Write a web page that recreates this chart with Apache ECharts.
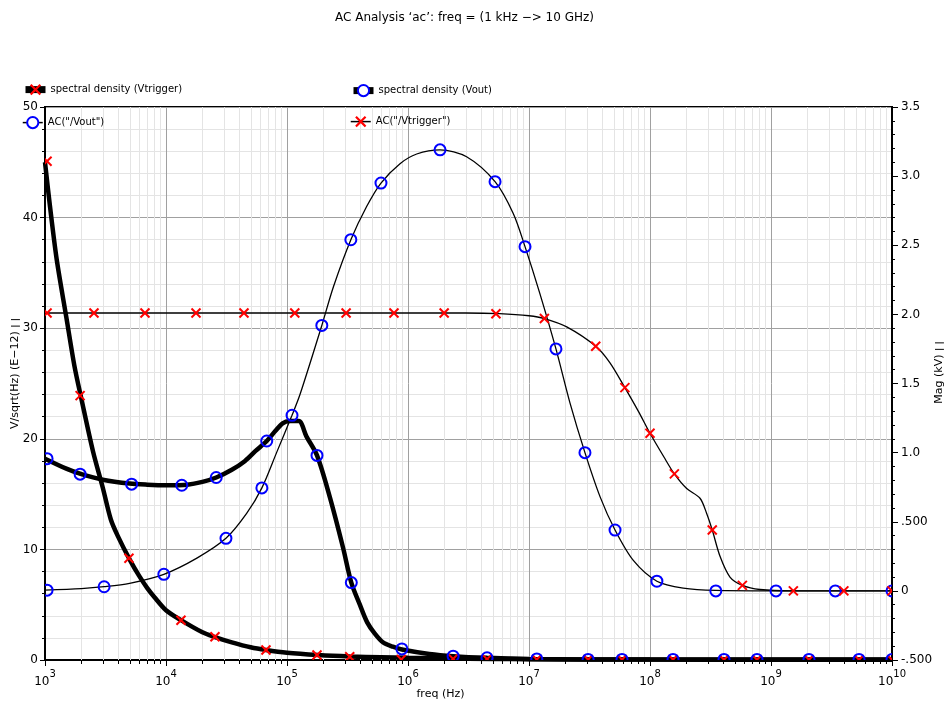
<!DOCTYPE html>
<html>
<head>
<meta charset="utf-8">
<script src="https://cdn.jsdelivr.net/npm/echarts@6/dist/echarts.min.js"></script>
<style>
html,body{margin:0;padding:0;background:#fff;}
#chart{width:947px;height:702px;}
</style>
</head>
<body>
<div id="chart"></div>
<script>
// ---- Spectral density of Vtrigger (left axis, V/sqrt(Hz) x 1e-12) ----
const sdTrigFreq = [1e3, 1.1e3, 1.25e3, 1.5e3, 1.75e3, 2e3, 2.5e3, 3e3, 3.5e3, 4e3, 5e3, 6e3, 7e3, 8e3, 1e4, 1.33e4, 2e4, 2.5e4, 3.5e4, 5e4, 6.7e4, 1e5, 1.8e5, 3.3e5, 6e5, 1e6, 2e6, 5e6, 1e7, 1e8, 1e9, 1e10];
const sdTrigVal  = [45.0, 41.0, 36.2, 31.0, 26.6, 23.6, 18.8, 15.6, 12.7, 11.2, 9.1, 7.6, 6.5, 5.7, 4.5, 3.6, 2.5, 2.1, 1.6, 1.15, 0.9, 0.65, 0.45, 0.32, 0.25, 0.2, 0.15, 0.1, 0.07, 0.04, 0.03, 0.03];
const sdTrigMarkFreq = [1.04e3, 1.95e3, 4.94e3, 1.33e4, 2.54e4, 6.7e4, 1.77e5, 3.3e5, 8.8e5, 2.36e6, 4.5e6, 1.16e7, 3.08e7, 5.87e7, 1.55e8, 4.09e8, 7.66e8, 2.06e9, 5.34e9, 1e10];
const sdTrigMarkVal  = [45.1, 23.9, 9.2, 3.6, 2.1, 0.9, 0.45, 0.3, 0.05, 0.1, 0.08, 0.05, 0.04, 0.04, 0.04, 0.03, 0.03, 0.03, 0.03, 0.03];

// ---- Spectral density of Vout (left axis) ----
const sdOutFreq = [1e3, 1.5e3, 2e3, 3e3, 5e3, 7e3, 1e4, 1.5e4, 2e4, 2.6e4, 3.5e4, 4.5e4, 5.5e4, 6.8e4, 8e4, 9.2e4, 1.05e5, 1.25e5, 1.45e5, 1.77e5, 2.25e5, 2.9e5, 3.4e5, 4e5, 4.6e5, 5.3e5, 6.2e5, 7.5e5, 8.9e5, 1.5e6, 2.36e6, 4.5e6, 1e7, 3e7, 1e10];
const sdOutVal  = [18.2, 17.3, 16.8, 16.3, 15.95, 15.85, 15.8, 15.85, 16.1, 16.5, 17.2, 18.0, 18.9, 19.8, 20.7, 21.4, 21.6, 21.6, 20.2, 18.5, 14.8, 10.2, 7.0, 5.0, 3.4, 2.4, 1.6, 1.2, 0.95, 0.55, 0.35, 0.2, 0.1, 0.05, 0.05];
const sdOutMarkFreq = [1.04e3, 1.95e3, 5.2e3, 1.35e4, 2.6e4, 6.8e4, 1.77e5, 3.4e5, 8.9e5, 2.36e6, 4.5e6, 1.16e7, 3.08e7, 5.87e7, 1.55e8, 4.09e8, 7.66e8, 2.06e9, 5.34e9, 1e10];
const sdOutMarkVal  = [18.2, 16.8, 15.9, 15.8, 16.5, 19.8, 18.5, 7.0, 1.0, 0.35, 0.2, 0.1, 0.05, 0.05, 0.05, 0.05, 0.05, 0.05, 0.05, 0.05];

// ---- AC magnitude of /Vout (right axis, kV) ----
const acOutFreq = [1e3, 2e3, 3.08e3, 5e3, 9.6e3, 1.8e4, 3.13e4, 4.64e4, 6.2e4, 8.2e4, 1.1e5, 1.28e5, 1.94e5, 2.42e5, 3.37e5, 4.55e5, 5.98e5, 8.59e5, 1.18e6, 1.84e6, 3.05e6, 5.24e6, 7.41e6, 9.27e6, 1.23e7, 1.67e7, 2.18e7, 2.9e7, 3.87e7, 5.14e7, 7.28e7, 1.14e8, 1.88e8, 3.5e8, 1e9, 1e10];
const acOutVal  = [0.005, 0.016, 0.03, 0.055, 0.12, 0.237, 0.38, 0.56, 0.745, 1.0, 1.27, 1.42, 1.92, 2.2, 2.54, 2.78, 2.95, 3.09, 3.16, 3.19, 3.14, 2.96, 2.73, 2.49, 2.15, 1.75, 1.36, 1.0, 0.68, 0.44, 0.22, 0.07, 0.02, 0.003, 0, 0];
const acOutMarkFreq = [1.04e3, 3.08e3, 9.6e3, 3.13e4, 6.2e4, 1.1e5, 1.94e5, 3.37e5, 5.98e5, 1.84e6, 5.24e6, 9.27e6, 1.67e7, 2.9e7, 5.14e7, 1.14e8, 3.5e8, 1.1e9, 3.4e9, 1e10];
const acOutMarkVal  = [0.005, 0.03, 0.12, 0.38, 0.745, 1.27, 1.92, 2.54, 2.95, 3.19, 2.96, 2.49, 1.75, 1.0, 0.44, 0.07, 0, 0, 0, 0];

// ---- AC magnitude of /Vtrigger (right axis, kV) ----
const acTrigFreq = [1e3, 1e4, 1e5, 1e6, 3e6, 5.7e6, 1e7, 1.34e7, 2.05e7, 3.56e7, 4.67e7, 6.2e7, 8e7, 1e8, 1.3e8, 1.59e8, 2.01e8, 2.59e8, 2.94e8, 3.27e8, 3.79e8, 4.58e8, 5.8e8, 8.1e8, 1.5e9, 1e10];
const acTrigVal  = [2.01, 2.01, 2.01, 2.01, 2.01, 2.005, 1.99, 1.97, 1.91, 1.77, 1.65, 1.47, 1.3, 1.14, 0.97, 0.846, 0.74, 0.67, 0.56, 0.44, 0.25, 0.1, 0.04, 0.01, 0, 0];
const acTrigMarkFreq = [1.04e3, 2.54e3, 6.7e3, 1.77e4, 4.41e4, 1.16e5, 3.08e5, 7.66e5, 1.99e6, 5.33e6, 1.34e7, 3.56e7, 6.2e7, 1e8, 1.59e8, 3.27e8, 5.8e8, 1.53e9, 4e9, 1e10];
const acTrigMarkVal  = [2.01, 2.01, 2.01, 2.01, 2.01, 2.01, 2.01, 2.01, 2.01, 2.005, 1.97, 1.77, 1.47, 1.14, 0.846, 0.44, 0.04, 0, 0, 0];

// ---- Axis tick text ----
const rightTickValues = [-0.5, 0, 0.5, 1.0, 1.5, 2.0, 2.5, 3.0, 3.5];
const rightTickText   = ['-.500', '0', '.500', '1.0', '1.5', '2.0', '2.5', '3.0', '3.5'];
const decadeStarts = [1e3, 1e4, 1e5, 1e6, 1e7, 1e8, 1e9];
const minorMultipliers = [2, 3, 4, 5, 6, 7, 8, 9];

const FONT = "'DejaVu Sans', sans-serif";
const X_MARK = 'path://M0,1.4 L1.4,0 L5,3.6 L8.6,0 L10,1.4 L6.4,5 L10,8.6 L8.6,10 L5,6.4 L1.4,10 L0,8.6 L3.6,5 Z';
const RED = '#ff0000';
const BLUE = '#0000ff';

const zip = (xs, ys) => xs.map((x, i) => [x, ys[i]]);

const minorFreqs = [];
decadeStarts.forEach(d => minorMultipliers.forEach(m => minorFreqs.push([d * m, 0])));

function legendAt(name, left, top, lineWidth) {
  return {
    data: [name], left: left, top: top, orient: 'horizontal',
    itemWidth: 20, itemHeight: 14, itemGap: 0, selectedMode: false,
    padding: 0,
    lineStyle: { width: lineWidth },
    textStyle: { color: '#000', fontSize: 10, fontFamily: FONT }
  };
}

function lineSeries(name, xs, ys, axis, width, symbol, color) {
  return {
    name: name, type: 'line', yAxisIndex: axis,
    data: zip(xs, ys),
    showSymbol: false, symbol: symbol, symbolSize: 11,
    smooth: 0.3,
    itemStyle: { color: color },
    lineStyle: { color: '#000', width: width },
    emphasis: { disabled: true }, z: 3
  };
}

// Point markers, clipped to the plotting area like the traces
function markerSeries(xs, ys, axis, kind) {
  const circle = kind === 'circle';
  return {
    type: 'custom', yAxisIndex: axis, clip: true, silent: true, z: 4,
    data: zip(xs, ys),
    encode: { x: 0, y: 1 },
    renderItem: (params, api) => {
      const p = api.coord([api.value(0), api.value(1)]);
      if (circle) {
        return { type: 'circle', shape: { cx: p[0], cy: p[1], r: 5.5 },
                 style: { fill: 'none', stroke: BLUE, lineWidth: 2 } };
      }
      const r = 4.5;
      return {
        type: 'group',
        children: [
          { type: 'line', shape: { x1: p[0] - r, y1: p[1] - r, x2: p[0] + r, y2: p[1] + r },
            style: { stroke: RED, lineWidth: 2 } },
          { type: 'line', shape: { x1: p[0] - r, y1: p[1] + r, x2: p[0] + r, y2: p[1] - r },
            style: { stroke: RED, lineWidth: 2 } }
        ]
      };
    }
  };
}

const chart = echarts.init(document.getElementById('chart'), null, { renderer: 'canvas' });

chart.setOption({
  animation: false,
  backgroundColor: '#fff',
  title: {
    text: 'AC Analysis ‘ac’: freq = (1 kHz −> 10 GHz)',
    left: 330, top: 7,
    textStyle: { fontSize: 12, fontWeight: 'normal', color: '#000', fontFamily: FONT }
  },
  legend: [
    legendAt('spectral density (Vtrigger)', 22, 84, 7),
    legendAt('spectral density (Vout)', 350, 84, 7),
    legendAt('AC("/Vout")', 22, 116, 1.5),
    legendAt('AC("/Vtrigger")', 350, 116, 1.5)
  ],
  grid: {
    left: 45, right: 55, top: 107, bottom: 42,
    outerBoundsMode: 'none', containLabel: false,
    show: true, borderColor: '#000', borderWidth: 2, backgroundColor: 'transparent'
  },
  xAxis: {
    type: 'log', logBase: 10, min: 1e3, max: 1e10, splitNumber: 7,
    name: 'freq (Hz)', nameLocation: 'middle', nameGap: 29, nameMoveOverlap: false,
    nameTextStyle: { fontSize: 11, color: '#000', fontFamily: FONT, padding: [0, 56, 0, 0] },
    axisLine: { show: true, lineStyle: { color: '#000', width: 2 } },
    axisTick: { show: true, inside: false, length: 6, lineStyle: { color: '#000' } },
    splitLine: { show: true, lineStyle: { color: '#a0a0a0', width: 1 } },
    axisLabel: {
      margin: 9,
      formatter: v => '{b|10}{s|' + Math.round(Math.log10(v)) + '}',
      rich: {
        b: { fontSize: 12, color: '#000', fontFamily: FONT, verticalAlign: 'bottom', lineHeight: 19 },
        s: { fontSize: 10, color: '#000', fontFamily: FONT, verticalAlign: 'top', lineHeight: 19 }
      }
    }
  },
  yAxis: [
    {
      type: 'value', position: 'left', min: 0, max: 50, interval: 10,
      name: 'V/sqrt(Hz) (E−12) {bar|| |}', nameLocation: 'middle', nameGap: 24, nameRotate: 90,
      nameMoveOverlap: false,
      nameTextStyle: {
        fontSize: 11, color: '#000', fontFamily: FONT, padding: [0, 0, 0, 20],
        rich: { bar: { fontSize: 9, fontWeight: 'bold', color: '#000', fontFamily: FONT } }
      },
      axisLine: { show: true, lineStyle: { color: '#000', width: 2 } },
      axisTick: { show: true, inside: false, length: 5, lineStyle: { color: '#000' } },
      minorTick: { show: true, splitNumber: 5, length: 3, lineStyle: { color: '#000' } },
      splitLine: { show: true, lineStyle: { color: '#a0a0a0', width: 1 } },
      minorSplitLine: { show: true, lineStyle: { color: '#e4e4e4', width: 1 } },
      axisLabel: { color: '#000', fontSize: 12, fontFamily: FONT, margin: 7 }
    },
    {
      type: 'value', position: 'right', min: -0.5, max: 3.5, interval: 0.5,
      name: 'Mag (kV) {bar|| |}', nameLocation: 'middle', nameGap: 42, nameRotate: 90,
      nameMoveOverlap: false,
      nameTextStyle: {
        fontSize: 11, color: '#000', fontFamily: FONT, padding: [0, 0, 0, 22],
        rich: { bar: { fontSize: 9, fontWeight: 'bold', color: '#000', fontFamily: FONT } }
      },
      axisLine: { show: true, lineStyle: { color: '#000', width: 2 } },
      axisTick: { show: true, inside: false, length: 6, lineStyle: { color: '#000' } },
      minorTick: { show: true, splitNumber: 5, length: 3, lineStyle: { color: '#000' } },
      splitLine: { show: false },
      axisLabel: {
        color: '#000', fontSize: 12, fontFamily: FONT, margin: 9,
        formatter: v => {
          const i = rightTickValues.findIndex(t => Math.abs(t - v) < 1e-9);
          return i >= 0 ? rightTickText[i] : '';
        }
      }
    }
  ],
  series: [
    // minor decade grid lines and their ticks under the frequency axis
    {
      type: 'custom', xAxisIndex: 0, yAxisIndex: 0, silent: true, z: 1, clip: false,
      data: minorFreqs,
      renderItem: (params, api) => {
        const top = api.coord([api.value(0), 50]);
        const bottom = api.coord([api.value(0), 0]);
        const x = Math.round(top[0]) + 0.5;
        return {
          type: 'group',
          children: [
            { type: 'line', shape: { x1: x, y1: top[1], x2: x, y2: bottom[1] },
              style: { stroke: '#e4e4e4', lineWidth: 1 } },
            { type: 'line', shape: { x1: x, y1: bottom[1], x2: x, y2: bottom[1] + 4 },
              style: { stroke: '#000', lineWidth: 1 } }
          ]
        };
      }
    },
    lineSeries('spectral density (Vtrigger)', sdTrigFreq, sdTrigVal, 0, 4.5, X_MARK, RED),
    lineSeries('spectral density (Vout)', sdOutFreq, sdOutVal, 0, 4.5, 'emptyCircle', BLUE),
    lineSeries('AC("/Vout")', acOutFreq, acOutVal, 1, 1.3, 'emptyCircle', BLUE),
    lineSeries('AC("/Vtrigger")', acTrigFreq, acTrigVal, 1, 1.3, X_MARK, RED),
    markerSeries(sdTrigMarkFreq, sdTrigMarkVal, 0, 'x'),
    markerSeries(sdOutMarkFreq, sdOutMarkVal, 0, 'circle'),
    markerSeries(acOutMarkFreq, acOutMarkVal, 1, 'circle'),
    markerSeries(acTrigMarkFreq, acTrigMarkVal, 1, 'x')
  ]
});
</script>
</body>
</html>
